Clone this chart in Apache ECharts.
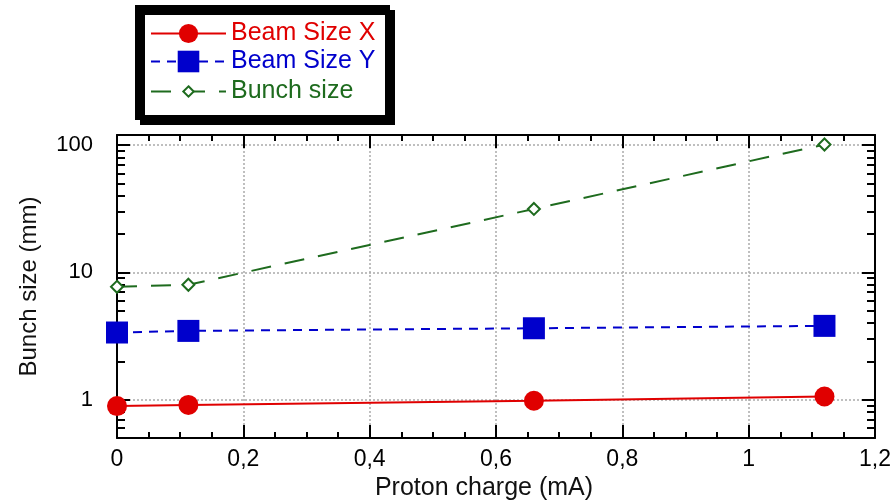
<!DOCTYPE html>
<html>
<head>
<meta charset="utf-8">
<script src="https://cdn.jsdelivr.net/npm/echarts@6/dist/echarts.min.js"></script>
<style>
    html, body { margin: 0; padding: 0; background: #fff; }
    #chart { width: 892px; height: 501px; }
</style>
</head>
<body>
<div id="chart"></div>
<script>
// proton charge (mA)
const charge = [0.0, 0.113, 0.66, 1.12];
const beamSizeX = [0.89, 0.91, 0.98, 1.06];
const beamSizeY = [3.37, 3.47, 3.64, 3.80];
const bunchSize = [7.7, 8.0, 31.5, 101];

const yMajorLabels = [1, 10, 100];
const yMinorTicks = [0.6, 0.7, 0.8, 0.9, 2, 3, 4, 5, 6, 7, 8, 9, 20, 30, 40, 50, 60, 70, 80, 90];

const FONT = 'Liberation Sans';
const RED = '#e00000', BLUE = '#0000cc', GREEN = '#1e6b1e';

const chart = echarts.init(document.getElementById('chart'));

const axisLineStyle = { color: '#000', width: 2 };
const gridLine = { show: true, lineStyle: { color: '#aaa', width: 1.5, type: [2, 2] } };

function xAxis(pos, withLabels) {
    return {
        type: 'value',
        position: pos,
        min: 0,
        max: 1.2,
        interval: 0.2,
        axisLine: { onZero: false, lineStyle: axisLineStyle },
        axisTick: { inside: true, length: 13, lineStyle: axisLineStyle },
        minorTick: { show: true, splitNumber: 4, length: 6, lineStyle: axisLineStyle },
        splitLine: withLabels ? gridLine : { show: false },
        axisLabel: {
            show: withLabels,
            fontFamily: FONT,
            fontSize: 23,
            color: '#000',
            margin: 10,
            formatter: v => String(+v.toFixed(2)).replace('.', ',')
        },
        name: withLabels ? 'Proton charge (mA)' : '',
        nameLocation: 'middle',
        nameGap: 35,
        nameTextStyle: { fontFamily: FONT, fontSize: 25, color: '#111', padding: [0, 24, 0, 0] }
    };
}

function yLog(pos, withLabels) {
    return {
        type: 'log',
        logBase: 10,
        position: pos,
        min: 0.5,
        max: 120,
        axisLine: { onZero: false, lineStyle: axisLineStyle },
        axisTick: { inside: true, length: 13, lineStyle: axisLineStyle },
        splitLine: withLabels ? gridLine : { show: false },
        axisLabel: {
            show: withLabels,
            fontFamily: FONT,
            fontSize: 22,
            color: '#000',
            margin: 24,
            formatter: v => yMajorLabels.includes(Math.round(v * 1000) / 1000) ? String(Math.round(v)) : ''
        },
        name: withLabels ? 'Bunch size (mm)' : '',
        nameLocation: 'middle',
        nameGap: 76,
        nameTextStyle: { fontFamily: FONT, fontSize: 24, color: '#111' }
    };
}

// extra axes only carrying the log-spaced minor ticks
function yMinor(pos) {
    return {
        type: 'value',
        position: pos,
        min: Math.log10(0.5),
        max: Math.log10(120),
        axisLine: { show: false, onZero: false },
        axisLabel: { show: false },
        splitLine: { show: false },
        axisTick: {
            inside: true,
            length: 8,
            lineStyle: axisLineStyle,
            customValues: yMinorTicks.map(v => Math.log10(v))
        }
    };
}

function legendFor(name, top, itemHeight, color) {
    return {
        data: [name],
        left: 150,
        top: top,
        padding: 0,
        itemWidth: 75,
        itemHeight: itemHeight,
        selectedMode: false,
        textStyle: { fontFamily: FONT, fontSize: 25, color: color }
    };
}

const option = {
    animation: false,
    backgroundColor: '#fff',
    graphic: [{
        type: 'rect',
        z: -1,
        shape: { x: 137.5, y: 7.5, width: 250, height: 110 },
        style: {
            fill: '#fff', stroke: '#000', lineWidth: 5,
            shadowColor: '#000', shadowBlur: 0, shadowOffsetX: 5, shadowOffsetY: 5
        }
    }],
    legend: [
        legendFor('Beam Size X', 21, 24, RED),
        legendFor('Beam Size Y', 49, 27, BLUE),
        legendFor('Bunch size', 79, 13, GREEN)
    ],
    grid: { left: 117, right: 17, top: 135, bottom: 63, containLabel: false, outerBoundsMode: 'none' },
    xAxis: [xAxis('bottom', true), xAxis('top', false)],
    yAxis: [yLog('left', true), yLog('right', false), yMinor('left'), yMinor('right')],
    series: [
        {
            name: 'Beam Size X',
            type: 'line',
            data: charge.map((x, i) => [x, beamSizeX[i]]),
            symbol: 'circle',
            symbolSize: 20,
            lineStyle: { color: RED, width: 2 },
            itemStyle: { color: RED }
        },
        {
            name: 'Beam Size Y',
            type: 'line',
            data: charge.map((x, i) => [x, beamSizeY[i]]),
            symbol: 'rect',
            symbolSize: 22,
            lineStyle: { color: BLUE, width: 2, type: [9, 7] },
            itemStyle: { color: BLUE }
        },
        {
            name: 'Bunch size',
            type: 'line',
            data: charge.map((x, i) => [x, bunchSize[i]]),
            symbol: 'diamond',
            symbolSize: 12,
            lineStyle: { color: GREEN, width: 2, type: [20, 14] },
            itemStyle: { color: '#fff', borderColor: GREEN, borderWidth: 2 }
        }
    ]
};

chart.setOption(option);
</script>
</body>
</html>
